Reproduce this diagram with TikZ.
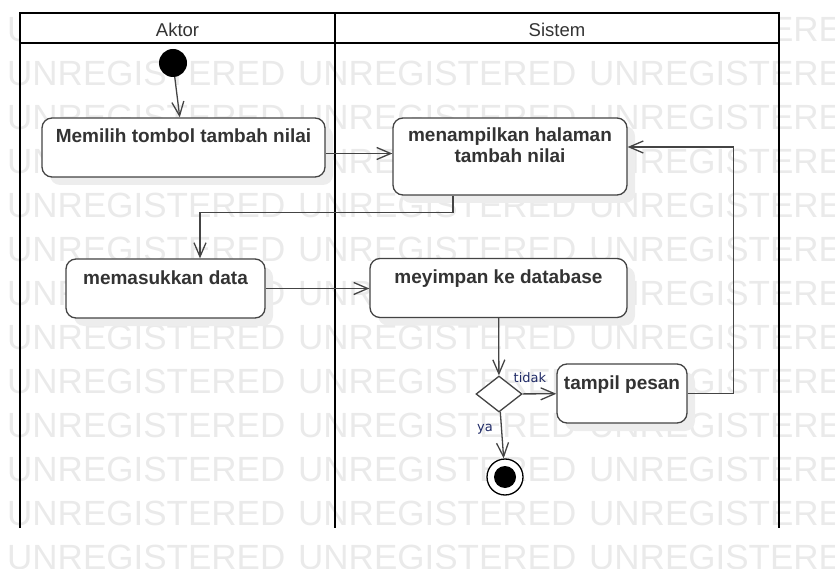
\documentclass[tikz,border=0pt]{standalone}
\usepackage{fontspec}
\setmainfont{Liberation Sans}
\newfontfamily\guardfont{DejaVu Sans}
\usepackage{tikz}
\usetikzlibrary{arrows.meta,shapes.geometric,shadows}

\definecolor{linegray}{HTML}{444444}
\definecolor{textgray}{HTML}{333333}
\definecolor{markgray}{HTML}{EAEAEA}
\definecolor{guardblue}{HTML}{1F2A66}

\begin{document}
\begin{tikzpicture}[x=1pt,y=-1pt,
    lane/.style={line width=2pt},
    watermark/.style={anchor=west, inner sep=0pt, text=markgray, font=\fontsize{35}{40}\selectfont},
    action/.style={draw=linegray, line width=1.3pt, fill=white, rounded corners=10pt,
        font=\fontsize{19}{21}\selectfont\bfseries, text=textgray, align=center,
        inner xsep=4pt, inner ysep=12pt, text height=13pt, text depth=22pt,
        drop shadow={shadow xshift=8pt, shadow yshift=-8pt, fill=black!7, opacity=1}},
    decision/.style={diamond, draw=linegray, line width=1.3pt, fill=white,
        minimum width=46pt, minimum height=36pt, inner sep=0pt},
    startnode/.style={circle, fill=black, minimum size=28pt, inner sep=0pt},
    endnode/.style={circle, draw=black, line width=1.3pt, fill=white, minimum size=36pt, inner sep=0pt,
        path picture={\fill[black] (path picture bounding box.center) circle (11pt);}},
    flow/.style={draw=linegray, line width=1.3pt, -{Straight Barb[length=14pt,width=12pt]}},
    guard/.style={font=\guardfont\fontsize{13}{15}\selectfont, text=guardblue, inner sep=2pt}]
\useasboundingbox (0,0) rectangle (835,569);

% watermark
\foreach \row in {0,...,12}
{
    \foreach \col in {0,1,2}
        \node[watermark] (wm-\row-\col) at (7+291*\col, 29+44*\row) {UNREGISTERED};
}

% swimlanes
\fill[white] (20,13) rectangle (779,43);
\draw[lane] (20,528) -- (20,13) -- (779,13) -- (779,528);
\draw[lane] (20,43) -- (779,43);
\draw[lane] (335,13) -- (335,528);
\node[font=\fontsize{18.5}{20}\selectfont, text=textgray] (aktor) at (177.5,30) {Aktor};
\node[font=\fontsize{18.5}{20}\selectfont, text=textgray] (sistem) at (557,30) {Sistem};

% nodes
\node[startnode] (start) at (173,63) {};
\node[action, minimum width=283pt] (act1) at (183.5,147.5) {Memilih tombol tambah nilai};
\node[action, minimum width=234pt, text height=33pt, text depth=20pt] (act2) at (510,156.5) {menampilkan halaman\\tambah nilai};
\node[action, minimum width=199pt] (act3) at (165.5,288.5) {memasukkan data};
\node[action, minimum width=257pt] (act4) at (498.5,288) {meyimpan ke database};
\node[decision] (dec) at (499,394) {};
\node[action, minimum width=130pt] (act5) at (622,393.5) {tampil pesan};
\node[endnode] (end) at (505,477) {};

% connectors
\draw[flow] (start) -- (act1);
\draw[flow] ([yshift=-6pt]act1.east) -- ([yshift=3pt]act2.west);
\draw[flow] ([xshift=-57pt]act2.south) -- ++(0,17) -| ([xshift=34.5pt]act3.north);
\draw[flow] (act3.east) -- (act3.east -| act4.west);
\draw[flow] (act4) -- (dec);
\draw[flow] (dec) -- node[guard, above=9pt, pos=0.22] (tidak) {tidak} (act5);
\draw[flow] (dec) -- node[guard, left=6pt, pos=0.375] (ya) {ya} (end);
\draw[flow] (act5.east) -- ++(46,0) |- ([yshift=9.5pt]act2.east);

\end{tikzpicture}
\end{document}
